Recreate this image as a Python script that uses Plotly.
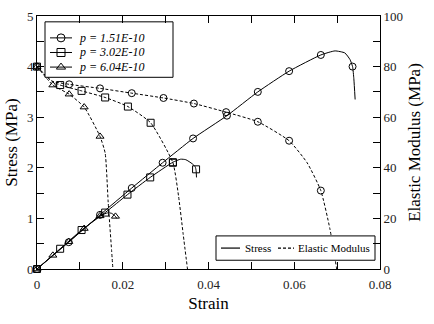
import plotly.graph_objects as go

# ---- data ----
# Stress curves (strain, MPa)
s1_strain = [0, 0.0074, 0.0147, 0.0221, 0.0293, 0.0364, 0.0443, 0.0515, 0.0588, 0.0662, 0.0695, 0.0718, 0.0730, 0.0736, 0.0739, 0.0742]
s1_stress = [0, 0.53, 1.07, 1.60, 2.10, 2.58, 3.03, 3.50, 3.91, 4.23, 4.31, 4.27, 4.14, 4.00, 3.76, 3.35]
s1_mk_strain = [0, 0.0074, 0.0147, 0.0221, 0.0293, 0.0364, 0.0443, 0.0515, 0.0588, 0.0662, 0.0736]
s1_mk_stress = [0, 0.53, 1.07, 1.60, 2.10, 2.58, 3.03, 3.50, 3.91, 4.23, 4.00]

s2_strain = [0, 0.0054, 0.0104, 0.0159, 0.0211, 0.0264, 0.0317, 0.0335, 0.0347, 0.0362, 0.0369, 0.0371, 0.0372]
s2_stress = [0, 0.40, 0.77, 1.115, 1.47, 1.81, 2.11, 2.17, 2.16, 2.08, 2.02, 1.95, 1.81]
s2_mk_strain = [0, 0.0054, 0.0104, 0.0159, 0.0211, 0.0264, 0.0317, 0.0371]
s2_mk_stress = [0, 0.40, 0.77, 1.115, 1.47, 1.81, 2.11, 1.97]

s3_strain = [0, 0.0037, 0.0074, 0.0110, 0.0147, 0.0165, 0.0174, 0.0182, 0.0186]
s3_stress = [0, 0.27, 0.54, 0.80, 1.05, 1.11, 1.10, 1.05, 1.00]
s3_mk_strain = [0, 0.0037, 0.0074, 0.0110, 0.0147, 0.0183]
s3_mk_stress = [0, 0.27, 0.54, 0.80, 1.05, 1.04]

# Elastic modulus curves (strain, MPa)
m1_strain = [0, 0.0035, 0.0075, 0.0147, 0.0221, 0.0295, 0.0366, 0.0441, 0.0515, 0.0588, 0.0630, 0.0662, 0.0683, 0.0699]
m1_mod = [80, 74.3, 73.0, 71.4, 69.5, 67.6, 65.4, 62.0, 58.2, 50.7, 42.0, 31.0, 16.0, 0]
m1_mk_strain = [0, 0.0075, 0.0147, 0.0221, 0.0295, 0.0366, 0.0441, 0.0515, 0.0588, 0.0662]
m1_mk_mod = [80, 73.0, 71.4, 69.5, 67.6, 65.4, 62.0, 58.2, 50.7, 31.0]

m2_strain = [0, 0.0035, 0.0054, 0.0104, 0.0159, 0.0212, 0.0265, 0.0317, 0.0330, 0.0341, 0.0351]
m2_mod = [80, 74.2, 72.7, 70.4, 67.8, 64.2, 57.8, 42.0, 29.0, 13.7, 0]
m2_mk_strain = [0, 0.0054, 0.0104, 0.0159, 0.0212, 0.0265, 0.0317]
m2_mk_mod = [80, 72.7, 70.4, 67.8, 64.2, 57.8, 42.0]

m3_strain = [0, 0.0037, 0.0075, 0.0110, 0.0147, 0.0159, 0.0166, 0.0174, 0.0177]
m3_mod = [80, 72.7, 69.1, 64.0, 52.4, 45.8, 26.5, 7.3, 0]
m3_mk_strain = [0, 0.0037, 0.0075, 0.0110, 0.0147]
m3_mk_mod = [80, 72.7, 69.1, 64.0, 52.4]

series_names = ["p = 1.51E-10", "p = 3.02E-10", "p = 6.04E-10"]
style_names = ["Stress", "Elastic Modulus"]
symbols = ["circle-open", "square-open", "triangle-up-open"]

x_ticks = [0, 0.02, 0.04, 0.06, 0.08]
x_ticklabels = ["0", "0.02", "0.04", "0.06", "0.08"]

FONT = "'Liberation Serif', 'Times New Roman', Times, serif"
BLK = "black"
DASH = "3px,2px"

# plot-area geometry in pixels (for the hand-built legends)
PL, PR, PT, PB = 37, 380, 9, 269
def px(x):
    return (x - PL) / (PR - PL)
def py(y):
    return (PB - y) / (PB - PT)

fig = go.Figure()

stress_sets = [(s1_strain, s1_stress, s1_mk_strain, s1_mk_stress),
               (s2_strain, s2_stress, s2_mk_strain, s2_mk_stress),
               (s3_strain, s3_stress, s3_mk_strain, s3_mk_stress)]
mod_sets = [(m1_strain, m1_mod, m1_mk_strain, m1_mk_mod),
            (m2_strain, m2_mod, m2_mk_strain, m2_mk_mod),
            (m3_strain, m3_mod, m3_mk_strain, m3_mk_mod)]

for i, (xs, ys, mx, my) in enumerate(stress_sets):
    fig.add_trace(go.Scatter(x=xs, y=ys, mode="lines", line=dict(color=BLK, width=1, shape="spline", smoothing=0.5),
                             showlegend=False, hoverinfo="skip"))
    fig.add_trace(go.Scatter(x=mx, y=my, mode="markers", cliponaxis=False,
                             marker=dict(symbol=symbols[i], size=7, color=BLK, line=dict(width=1, color=BLK)),
                             showlegend=False))

for i, (xs, ys, mx, my) in enumerate(mod_sets):
    fig.add_trace(go.Scatter(x=xs, y=ys, mode="lines", yaxis="y2",
                             line=dict(color=BLK, width=1, dash=DASH, shape="spline", smoothing=0.5),
                             showlegend=False, hoverinfo="skip"))
    fig.add_trace(go.Scatter(x=mx, y=my, mode="markers", yaxis="y2", cliponaxis=False,
                             marker=dict(symbol=symbols[i], size=7, color=BLK, line=dict(width=1, color=BLK)),
                             showlegend=False))

# ---------- hand-built legends on a helper [0,1] overlay axis ----------
def box(x0, y0, x1, y1):
    fig.add_trace(go.Scatter(x=[px(x0), px(x1), px(x1), px(x0), px(x0)],
                             y=[py(y0), py(y0), py(y1), py(y1), py(y0)],
                             mode="lines", fill="toself", fillcolor="white",
                             line=dict(color=BLK, width=1), xaxis="x3", yaxis="y3",
                             showlegend=False, hoverinfo="skip", cliponaxis=False))

def seg(x0, x1, y, dash=None, width=1):
    fig.add_trace(go.Scatter(x=[px(x0), px(x1)], y=[py(y)] * 2, mode="lines",
                             line=dict(color=BLK, width=width, dash=dash), xaxis="x3", yaxis="y3",
                             showlegend=False, hoverinfo="skip", cliponaxis=False))

def label(x, y, text, anchor="left", size=12):
    fig.add_annotation(x=px(x), y=py(y), xref="paper", yref="paper", text=text,
                       showarrow=False, xanchor=anchor, yanchor="middle",
                       font=dict(family=FONT, size=size, color=BLK))

# legend 1 : series
box(45, 15, 173, 72)
rows = [31.5, 46.5, 61.5]
for i, name in enumerate(series_names):
    seg(50, 72, rows[i])
    fig.add_trace(go.Scatter(x=[px(61)], y=[py(rows[i])], mode="markers",
                             marker=dict(symbol=symbols[i], size=8, color=BLK, line=dict(width=1, color=BLK)),
                             xaxis="x3", yaxis="y3", showlegend=False, hoverinfo="skip", cliponaxis=False))
    label(77, rows[i], "<i>" + name + "</i>")

# legend 2 : line styles
box(216, 235, 375, 260)
ly = 247.5
seg(221, 240, ly, width=1.2)
label(243, ly, style_names[0], size=11)
seg(278, 294, ly, dash=DASH, width=1.2)
label(372, ly, style_names[1], anchor="right", size=11)

axis_common = dict(showline=True, linecolor=BLK, linewidth=1, ticks="inside", ticklen=7,
                   tickcolor=BLK, tickwidth=1, showgrid=False, zeroline=False,
                   tickfont=dict(family=FONT, size=13, color="#222"))

fig.update_layout(
    width=434, height=324,
    margin=dict(l=PL, r=434 - PR, t=PT, b=324 - PB),
    paper_bgcolor="white", plot_bgcolor="white",
    font=dict(family=FONT, color=BLK),
    showlegend=False,
    xaxis=dict(range=[0, 0.08], tickvals=x_ticks, ticktext=x_ticklabels, mirror="ticks",
               ticklabelstandoff=3,
               minor=dict(dtick=0.01, ticks="inside", ticklen=7, tickcolor=BLK, showgrid=False),
               title=dict(text="Strain", font=dict(family=FONT, size=17), standoff=6),
               **axis_common),
    yaxis=dict(range=[0, 5], dtick=1,
               minor=dict(dtick=0.5, ticks="inside", ticklen=7, tickcolor=BLK, showgrid=False),
               title=dict(text="Stress (MPa)", font=dict(family=FONT, size=17), standoff=4),
               **axis_common),
    yaxis2=dict(range=[0, 100], dtick=20, overlaying="y", side="right",
                minor=dict(dtick=10, ticks="inside", ticklen=7, tickcolor=BLK, showgrid=False),
                title=dict(text="Elastic Modulus (MPa)", font=dict(family=FONT, size=17), standoff=6),
                **axis_common),
    xaxis3=dict(overlaying="x", range=[0, 1], visible=False, fixedrange=True),
    yaxis3=dict(overlaying="y", range=[0, 1], visible=False, fixedrange=True),
)

fig.write_html("out.html")
